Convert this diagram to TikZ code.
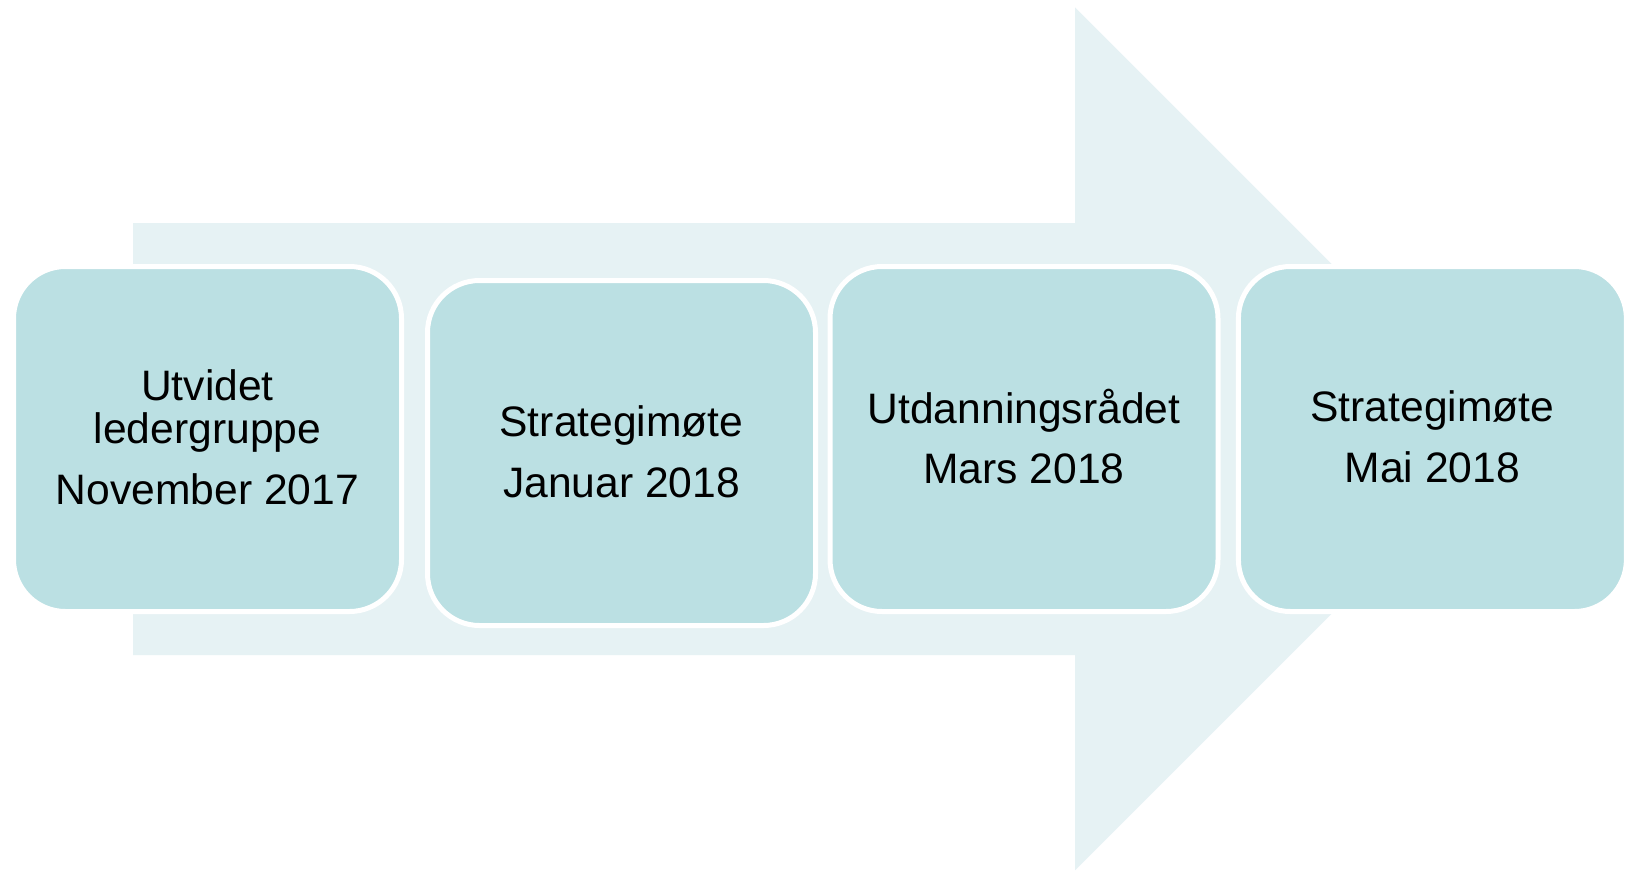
\documentclass[tikz,border=0pt]{standalone}
\usepackage{fontspec}
\setmainfont{Liberation Sans}
\definecolor{arrowfill}{RGB}{230,242,244}
\definecolor{boxfill}{RGB}{187,224,227}
\tikzset{
  stagebox/.style={rectangle, rounded corners=52pt, minimum width=388pt, minimum height=345pt,
    inner sep=0pt, fill=boxfill, draw=white, line width=5pt},
  lbl/.style={font=\fontsize{42.6}{60.5}\selectfont, align=center, inner sep=0pt, text=black}
}
\begin{document}
\begin{tikzpicture}[x=1pt,y=-1pt]
  \fill[white] (0,0) rectangle (1632,870);
  \useasboundingbox (0,0) rectangle (1632,870);
  % big background arrow
  \fill[arrowfill] (133,223) -- (1075,223) -- (1075,7.3) -- (1506.5,438.8)
    -- (1075,870.3) -- (1075,655) -- (133,655) -- cycle;
  % boxes
  \node[stagebox] (b1) at (207.5,439) {};
  \node[stagebox] (b2) at (621.5,453) {};
  \node[stagebox] (b3) at (1024,439) {};
  \node[stagebox] (b4) at (1432.4,439) {};
  % labels
  \node[lbl] (t1) at (207.5,437.2) {Utvidet\\[-17pt]ledergruppe\\November 2017};
  \node[lbl] (t2) at (621.5,451.7) {Strategimøte\\Januar 2018};
  \node[lbl] (t3) at (1024,436.5) {Utdanningsrådet\\Mars 2018};
  \node[lbl] (t4) at (1432.4,437) {Strategimøte\\Mai 2018};
\end{tikzpicture}
\end{document}
